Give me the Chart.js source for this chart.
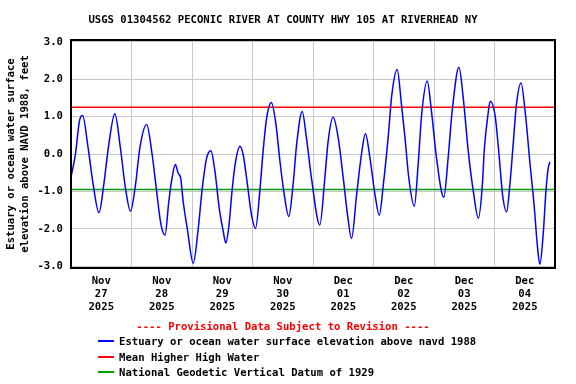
<!DOCTYPE html>
<html>
<head>
<meta charset="utf-8">
<script src="https://cdn.jsdelivr.net/npm/chart.js@4"></script>
<style>
  body { margin: 0; background: #fff; }
  #wrap { position: relative; width: 576px; height: 384px; font: bold 10.6px "DejaVu Sans Mono", monospace; color: #000; }
  #wrap canvas { position: absolute; left: 0; top: 0; }
  .txt { position: absolute; white-space: pre; line-height: 13px; }
  #title { left: 0; width: 566px; top: 13px; text-align: center; }
  #prov { left: 0; width: 566px; top: 320px; text-align: center; color: #ff0000; }
  .key { position: absolute; left: 98px; width: 16px; height: 2px; }
</style>
</head>
<body>
<div id="wrap">
  <canvas id="chart" width="576" height="384"></canvas>
  <div class="txt" id="title">USGS 01304562 PECONIC RIVER AT COUNTY HWY 105 AT RIVERHEAD NY</div>
  <div class="txt" id="prov">---- Provisional Data Subject to Revision ----</div>
  <div id="legend"></div>
</div>
<script>
// ─── Data (hours since Nov 27 2025 00:00, feet) ───────────────
const dayLabels = [
  ['Nov', '27', '2025'], ['Nov', '28', '2025'], ['Nov', '29', '2025'], ['Nov', '30', '2025'],
  ['Dec', '01', '2025'], ['Dec', '02', '2025'], ['Dec', '03', '2025'], ['Dec', '04', '2025']
];
const hours = [
  0.0, 1.7, 3.4, 4.6, 6.8, 8.8, 11.1, 13.0, 14.8, 17.4, 19.6, 21.6, 23.6, 25.6, 27.3, 30.0,
  32.2, 33.9, 35.7, 37.3, 38.8, 40.1, 41.4, 42.5, 43.5, 44.5, 46.1, 48.5, 50.5, 52.0, 53.8, 55.5,
  57.1, 58.8, 60.4, 61.4, 62.6, 64.0, 65.3, 67.0, 68.3, 70.0, 71.6, 73.2, 74.9, 76.2, 77.6, 79.5,
  81.3, 82.9, 84.6, 86.4, 88.1, 89.5, 91.7, 93.4, 95.5, 98.7, 100.7, 102.0, 104.0, 106.0, 108.0,
  109.7, 111.3, 113.3, 115.2, 116.8, 118.6, 120.6, 122.3, 123.9, 125.8, 127.3, 129.4, 131.1,
  132.5, 134.0, 136.2, 137.7, 139.1, 141.3, 143.0, 145.0, 147.9, 149.6, 151.2, 153.9, 155.6,
  157.6, 159.6, 161.6, 163.1, 164.0, 165.4, 166.3, 168.2, 169.8, 171.2, 172.8, 174.1, 175.4,
  176.7, 178.5, 180.3, 182.0, 183.7, 185.1, 186.0, 187.3, 188.4, 189.3, 190.0
];
const elevation = [
  -0.62, -0.03, 0.90, 1.03, 0.16, -0.82, -1.57, -0.82, 0.16, 1.08, 0.16, -0.91, -1.53, -0.82, 0.16, 0.79,
  -0.02, -0.96, -1.89, -2.17, -1.27, -0.64, -0.28, -0.51, -0.64, -1.27, -1.98, -2.92, -1.98, -0.96, -0.11, 0.09,
  -0.46, -1.45, -2.07, -2.38, -1.95, -0.91, -0.20, 0.21, -0.02, -0.82, -1.63, -1.99, -1.00, 0.07, 0.96, 1.38,
  0.79, -0.20, -1.09, -1.67, -0.82, 0.25, 1.14, 0.43, -0.70, -1.90, -0.64, 0.34, 0.98, 0.43, -0.64,
  -1.63, -2.26, -1.09, -0.02, 0.54, -0.11, -1.09, -1.64, -0.82, 0.43, 1.60, 2.26, 1.32,
  0.43, -0.64, -1.40, -0.29, 1.05, 1.95, 1.14, -0.11, -1.16, -0.11, 1.14, 2.32, 1.50,
  0.07, -1.00, -1.72, -0.91, 0.16, 1.05, 1.41, 1.05, -0.02, -1.09, -1.55, -0.82, 0.25,
  1.32, 1.90, 1.05, -0.20, -1.36, -2.52, -2.95, -2.16, -1.00, -0.38, -0.21
];
const meanHigherHighWater = 1.25;
const ngvd1929 = -0.95;
const xRange = [0, 192];
const yRange = [-3.05, 3.05];

const seriesNames = [
  'Estuary or ocean water surface elevation above navd 1988',
  'Mean Higher High Water',
  'National Geodetic Vertical Datum of 1929'
];
const seriesColors = ['#0000ff', '#ff0000', '#00a000'];

// ─── HTML legend ─────────────────────────────────────────────
const legendEl = document.getElementById('legend');
seriesNames.forEach((name, i) => {
  const top = Math.round(335 + i * 15.7);
  legendEl.innerHTML +=
    `<div class="key" style="top:${top + 5}px;background:${seriesColors[i]}"></div>` +
    `<div class="txt" style="left:119px;top:${top}px">${name}</div>`;
});

// ─── Frame plugin ────────────────────────────────────────────
const framePlugin = {
  id: 'frame',
  afterDraw(chart) {
    const { ctx, chartArea: a } = chart;
    ctx.save();
    ctx.strokeStyle = '#000';
    ctx.lineWidth = 2;
    ctx.strokeRect(a.left, a.top, a.right - a.left, a.bottom - a.top);
    ctx.restore();
  }
};

const font = { family: 'DejaVu Sans Mono', size: 10.6, weight: 'bold', lineHeight: 1.23 };

new Chart(document.getElementById('chart'), {
  type: 'line',
  data: {
    datasets: [
      {
        label: seriesNames[0],
        data: hours.map((h, i) => ({ x: h, y: elevation[i] })),
        borderColor: seriesColors[0],
        borderWidth: 1.5,
        pointRadius: 0,
        cubicInterpolationMode: 'monotone',
        order: 0
      },
      {
        label: seriesNames[1],
        data: xRange.map(x => ({ x, y: meanHigherHighWater })),
        borderColor: seriesColors[1],
        borderWidth: 1.5,
        pointRadius: 0,
        order: 1
      },
      {
        label: seriesNames[2],
        data: xRange.map(x => ({ x, y: ngvd1929 })),
        borderColor: seriesColors[2],
        borderWidth: 1.5,
        pointRadius: 0,
        order: 1
      }
    ]
  },
  options: {
    responsive: false,
    animation: false,
    layout: { padding: { top: 40, right: 21, left: 0, bottom: 66 } },
    plugins: { legend: { display: false }, tooltip: { enabled: false } },
    scales: {
      x: {
        type: 'linear',
        min: xRange[0],
        max: xRange[1],
        afterFit: s => { s.height = 50; },
        grid: {
          drawTicks: false,
          color: c => (c.tick && c.tick.value % 24 === 0) ? '#c8c8c8' : 'rgba(0,0,0,0)'
        },
        border: { display: false },
        ticks: {
          stepSize: 12,
          autoSkip: false,
          maxRotation: 0,
          padding: 7,
          color: '#000',
          font,
          callback: v => (v % 24 === 12) ? dayLabels[(v - 12) / 24] : ''
        }
      },
      y: {
        min: yRange[0],
        max: yRange[1],
        afterFit: s => { s.width = 71; },
        grid: { drawTicks: false, color: '#c8c8c8' },
        border: { display: false },
        ticks: {
          stepSize: 1,
          includeBounds: false,
          padding: 8,
          color: '#000',
          font,
          callback: v => v.toFixed(1)
        },
        title: {
          display: true,
          text: ['Estuary or ocean water surface', 'elevation above NAVD 1988, feet'],
          color: '#000',
          font: { family: 'DejaVu Sans Mono', size: 10.6, weight: 'bold', lineHeight: 1.27 },
          padding: { top: 5, bottom: 0 }
        }
      }
    }
  },
  plugins: [framePlugin]
});
</script>
</body>
</html>
